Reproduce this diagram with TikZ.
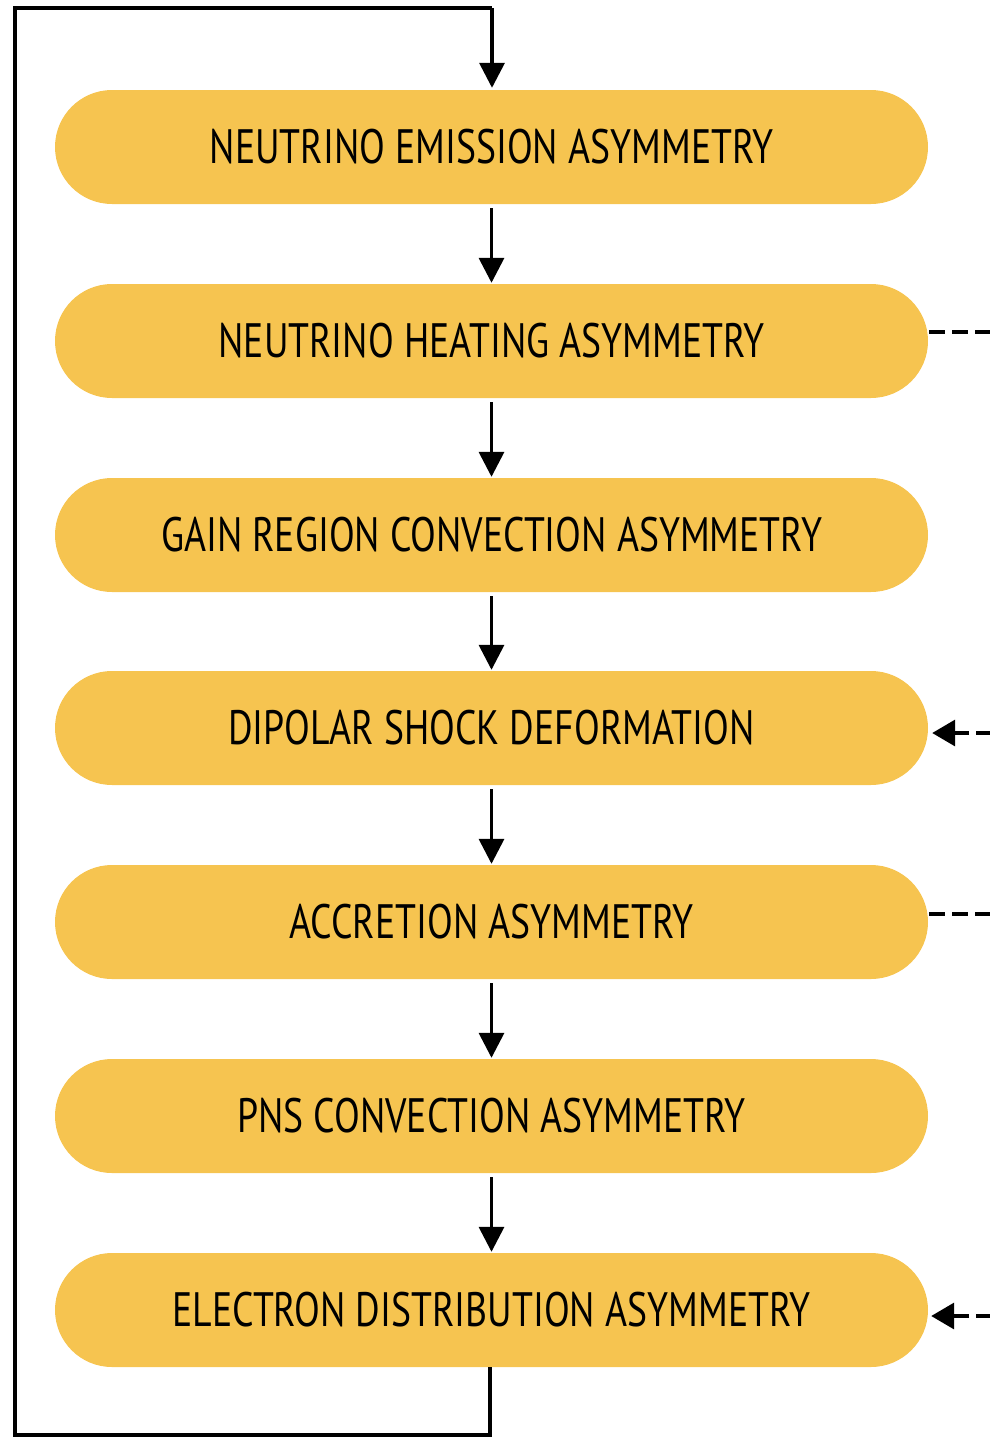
\documentclass[tikz,border=0pt]{standalone}
\usepackage{fontspec}
\setmainfont[FakeStretch=0.78]{PT Sans}
\usetikzlibrary{arrows.meta}
\definecolor{boxfill}{RGB}{246,196,80}
\tikzset{
  pill/.style={fill=boxfill, minimum width=873pt, minimum height=114pt,
    rounded corners=57pt, inner sep=0pt, font=\fontsize{48.3}{52}\selectfont, text=black},
  flow/.style={line width=3.5pt, -{Triangle[width=25pt,length=25pt]}},
  loop/.style={line width=3.5pt},
  ext/.style={line width=3.5pt, dash pattern=on 16pt off 7pt},
  extin/.style={line width=3.5pt, dash pattern=on 16pt off 7pt, -{Triangle[width=26pt,length=23pt]}}
}
\begin{document}
\begin{tikzpicture}[x=1pt,y=-1pt]
\useasboundingbox (0,0) rectangle (990,1438);
\node[pill] (b1) at (491.5,147) {NEUTRINO EMISSION ASYMMETRY};
\node[pill] (b2) at (491.5,341) {NEUTRINO HEATING ASYMMETRY};
\node[pill] (b3) at (491.5,535) {GAIN REGION CONVECTION ASYMMETRY};
\node[pill] (b4) at (491.5,728) {DIPOLAR SHOCK DEFORMATION};
\node[pill] (b5) at (491.5,922) {ACCRETION ASYMMETRY};
\node[pill] (b6) at (491.5,1116) {PNS CONVECTION ASYMMETRY};
\node[pill] (b7) at (491.5,1310) {ELECTRON DISTRIBUTION ASYMMETRY};
\draw[flow] ([yshift=-4pt]b1.south) -- ([yshift=1pt]b2.north);
\draw[flow] ([yshift=-4pt]b2.south) -- ([yshift=1pt]b3.north);
\draw[flow] ([yshift=-4pt]b3.south) -- ([yshift=1pt]b4.north);
\draw[flow] ([yshift=-4pt]b4.south) -- ([yshift=1pt]b5.north);
\draw[flow] ([yshift=-4pt]b5.south) -- ([yshift=1pt]b6.north);
\draw[flow] ([yshift=-4pt]b6.south) -- ([yshift=1pt]b7.north);
% feedback loop
\coordinate (lb) at (15,1435);
\coordinate (lt) at (15,8);
\coordinate (lr) at (492,8);
\draw[loop] ([xshift=-1.5pt]b7.south) |- (lb) -- (lt) -- (lr);
\draw[flow] (lr) -- ([xshift=0.5pt,yshift=2pt]b1.north);
% external links on the right
\coordinate (e2) at (992,332);
\coordinate (e4) at (992,733);
\coordinate (e5) at (992,914);
\coordinate (e7) at (992,1316);
\draw[ext] ([xshift=1pt]b2.east |- e2) -- (e2);
\draw[extin] (e4) -- ([xshift=4pt]b4.east |- e4);
\draw[ext] ([xshift=1pt]b5.east |- e5) -- (e5);
\draw[extin] (e7) -- ([xshift=3pt]b7.east |- e7);
\end{tikzpicture}
\end{document}
